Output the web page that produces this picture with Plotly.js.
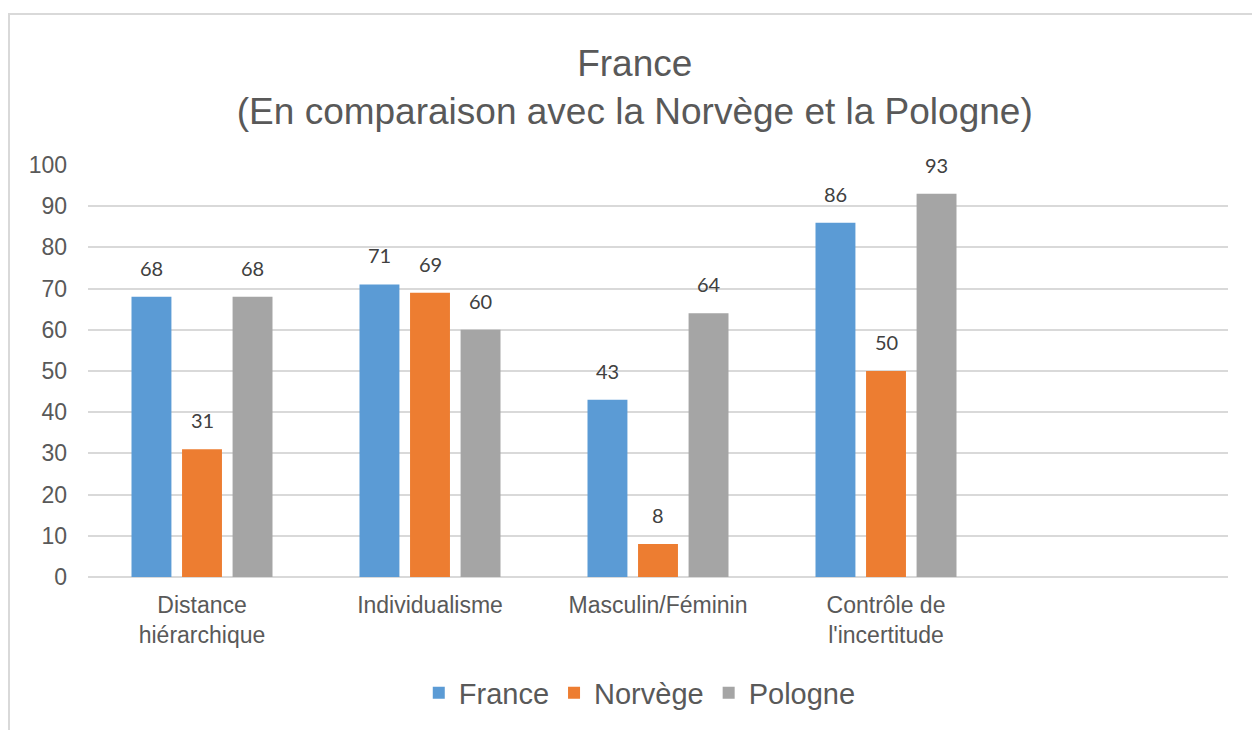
<!DOCTYPE html>
<html>
<head>
<meta charset="utf-8">
<script src="https://cdn.plot.ly/plotly-3.0.1.min.js"></script>
<style>
html,body{margin:0;padding:0;background:#fff;overflow:hidden;}
#chart{width:1252px;height:730px;position:absolute;left:0;top:0;}
#frame{position:absolute;left:8px;top:13px;width:1400px;height:900px;border:2px solid #d9d9d9;pointer-events:none;}
</style>
</head>
<body>
<div id="chart"></div>
<div id="frame"></div>
<script>
const categories = ["Distance<br>hiérarchique", "Individualisme", "Masculin/Féminin", "Contrôle de<br>l'incertitude"];
const seriesNames = ["France", "Norvège", "Pologne"];
const france = [68, 71, 43, 86];
const norvege = [31, 69, 8, 50];
const pologne = [68, 60, 64, 93];
const colors = ["#5B9BD5", "#ED7D31", "#A5A5A5"];
const yTicks = [0, 10, 20, 30, 40, 50, 60, 70, 80, 90, 100];

const FONT = 'Liberation Sans, Arial, sans-serif';
const allValues = [france, norvege, pologne];
const traces = allValues.map((vals, i) => ({
  type: 'bar',
  name: seriesNames[i],
  x: categories,
  y: vals,
  marker: {color: colors[i]},
  hoverinfo: 'none',
  offsetgroup: String(i)
}));

// data labels placed above each bar, positioned through the axis scales
const annotations = [];
const slot = (1 - 0.335) / 3;
allValues.forEach((vals, i) => {
  vals.forEach((v, j) => {
    annotations.push({
      x: j + (i - 1) * slot,
      y: v,
      xref: 'x', yref: 'y',
      text: String(v),
      showarrow: false,
      yanchor: 'middle',
      yshift: 29,
      font: {family: 'Lato, Open Sans, sans-serif', size: 20, color: '#404040'}
    });
  });
});

const layout = {
  width: 1252, height: 730,
  margin: {l: 88, r: 24, t: 165, b: 153},
  paper_bgcolor: '#fff', plot_bgcolor: '#fff',
  font: {family: FONT, color: '#595959'},
  title: {
    text: 'France<br>(En comparaison avec la Norvège et la Pologne)',
    font: {family: FONT, size: 37, color: '#595959'},
    xref: 'container', x: 0.507, xanchor: 'center',
    yref: 'container', y: 1 - 76/730, yanchor: 'middle'
  },
  barmode: 'group',
  bargap: 0.335,
  bargroupgap: 0.21,
  xaxis: {
    type: 'category',
    range: [-0.5, 4.5],
    showgrid: false,
    showline: false,
    zeroline: false,
    ticks: '',
    ticklabelstandoff: 12,
    tickfont: {family: FONT, size: 23, color: '#595959'},
    fixedrange: true
  },
  yaxis: {
    range: [0, 100],
    tickvals: yTicks,
    ticktext: yTicks.map(String),
    showgrid: true,
    gridcolor: '#d9d9d9',
    gridwidth: 2,
    zeroline: true,
    zerolinecolor: '#d9d9d9',
    zerolinewidth: 2,
    showline: false,
    ticks: '',
    ticklabelstandoff: 20,
    tickfont: {family: FONT, size: 23, color: '#595959'},
    fixedrange: true
  },
  showlegend: true,
  legend: {
    orientation: 'h',
    xref: 'container', x: 0.511, xanchor: 'center',
    yref: 'container', y: 1 - 693/730, yanchor: 'middle',
    font: {family: FONT, size: 29, color: '#595959'},
    itemclick: false, itemdoubleclick: false,
    tracegroupgap: 0
  },
  annotations: annotations
};

Plotly.newPlot('chart', traces, layout, {displayModeBar: false, staticPlot: true});
</script>
</body>
</html>
